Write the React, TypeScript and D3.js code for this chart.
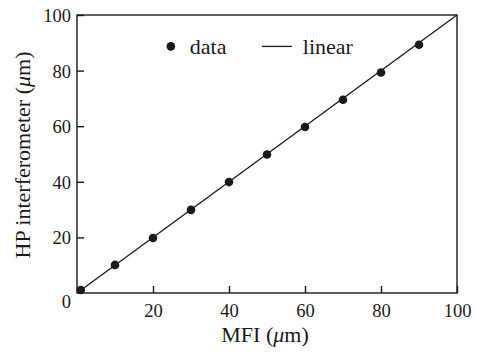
import * as React from 'react';
import * as d3 from 'd3';

const mfi = [1, 10, 20, 30, 40, 50, 60, 70, 80, 90];
const hp = [1.1, 10.1, 19.8, 29.9, 39.9, 49.8, 59.7, 69.5, 79.3, 89.3];
const fitLine = [[0, 0], [100, 100]];
const xTicks = [20, 40, 60, 80, 100];
const yTicks = [0, 20, 40, 60, 80, 100];

const FONT = '"Liberation Serif", "DejaVu Serif", serif';
const INK = '#1a1a1a';

export default function App() {
  const ref = React.useRef<SVGSVGElement>(null);

  React.useEffect(() => {
    const width = 477;
    const height = 352;
    const margin = {top: 15, right: 20, bottom: 59, left: 77};
    const w = width - margin.left - margin.right;
    const h = height - margin.top - margin.bottom;

    const svg = d3.select(ref.current);
    svg.selectAll('*').remove();
    const g = svg.append('g').attr('transform', `translate(${margin.left},${margin.top})`);

    const x = d3.scaleLinear().domain([0, 100]).range([0, w]);
    const y = d3.scaleLinear().domain([0, 100]).range([h, 0]);

    // frame
    g.append('rect')
      .attr('width', w)
      .attr('height', h)
      .attr('fill', 'none')
      .attr('stroke', INK)
      .attr('stroke-width', 1.4);

    // inward ticks, bottom and left (the shared 0 sits with the y axis)
    const xAxis = g.append('g')
      .attr('transform', `translate(0,${h})`)
      .call(d3.axisBottom(x).tickValues(xTicks).tickSizeInner(-7).tickSizeOuter(0).tickPadding(11));
    const yAxis = g.append('g')
      .call(d3.axisLeft(y).tickValues(yTicks).tickSizeInner(-7).tickSizeOuter(0).tickPadding(6));
    [xAxis, yAxis].forEach(a => {
      a.select('.domain').remove();
      a.selectAll('line').attr('stroke', INK).attr('stroke-width', 1.4);
      a.selectAll('text')
        .attr('fill', INK)
        .style('font-family', FONT)
        .style('font-size', '18.5px');
    });
    yAxis.selectAll('text').attr('dy', '0.35em');
    yAxis.selectAll('.tick').filter((d: any) => d === 0).select('line').remove();
    yAxis.selectAll('text').filter((d: any) => d === 0).attr('dy', '0.78em');

    // linear fit
    const line = d3.line<number[]>().x(d => x(d[0])).y(d => y(d[1]));
    g.append('path')
      .datum(fitLine)
      .attr('d', line)
      .attr('fill', 'none')
      .attr('stroke', INK)
      .attr('stroke-width', 1.3);

    // data points
    g.selectAll('.pt')
      .data(mfi)
      .enter().append('circle')
      .attr('class', 'pt')
      .attr('cx', d => x(d))
      .attr('cy', (d, i) => y(hp[i]))
      .attr('r', 4.3)
      .attr('fill', INK);

    // legend
    const lg = g.append('g').attr('transform', `translate(${x(24.7)},${y(88.7)})`);
    lg.append('circle').attr('r', 4.3).attr('fill', INK);
    lg.append('text').attr('x', 19).attr('y', 7.5)
      .style('font-family', FONT).style('font-size', '22px').attr('fill', INK).text('data');
    lg.append('line').attr('x1', 91).attr('x2', 121).attr('y1', 0).attr('y2', 0)
      .attr('stroke', INK).attr('stroke-width', 1.3);
    lg.append('text').attr('x', 132).attr('y', 7.5)
      .style('font-family', FONT).style('font-size', '22px').attr('fill', INK).text('linear');

    // axis titles
    const xt = svg.append('text')
      .attr('x', 265)
      .attr('y', 342)
      .attr('text-anchor', 'middle')
      .style('font-family', FONT).style('font-size', '22px').attr('fill', INK);
    xt.append('tspan').text('MFI (');
    xt.append('tspan').style('font-style', 'italic').text('μ');
    xt.append('tspan').text('m)');

    const yt = svg.append('text')
      .attr('transform', 'translate(30,155) rotate(-90)')
      .attr('text-anchor', 'middle')
      .style('font-family', FONT).style('font-size', '22px').attr('fill', INK);
    yt.append('tspan').text('HP interferometer (');
    yt.append('tspan').style('font-style', 'italic').text('μ');
    yt.append('tspan').text('m)');
  }, []);

  return (
    <svg ref={ref} width={477} height={352}
      style={{position: 'absolute', left: 0, top: 0, background: '#fff'}} />
  );
}
